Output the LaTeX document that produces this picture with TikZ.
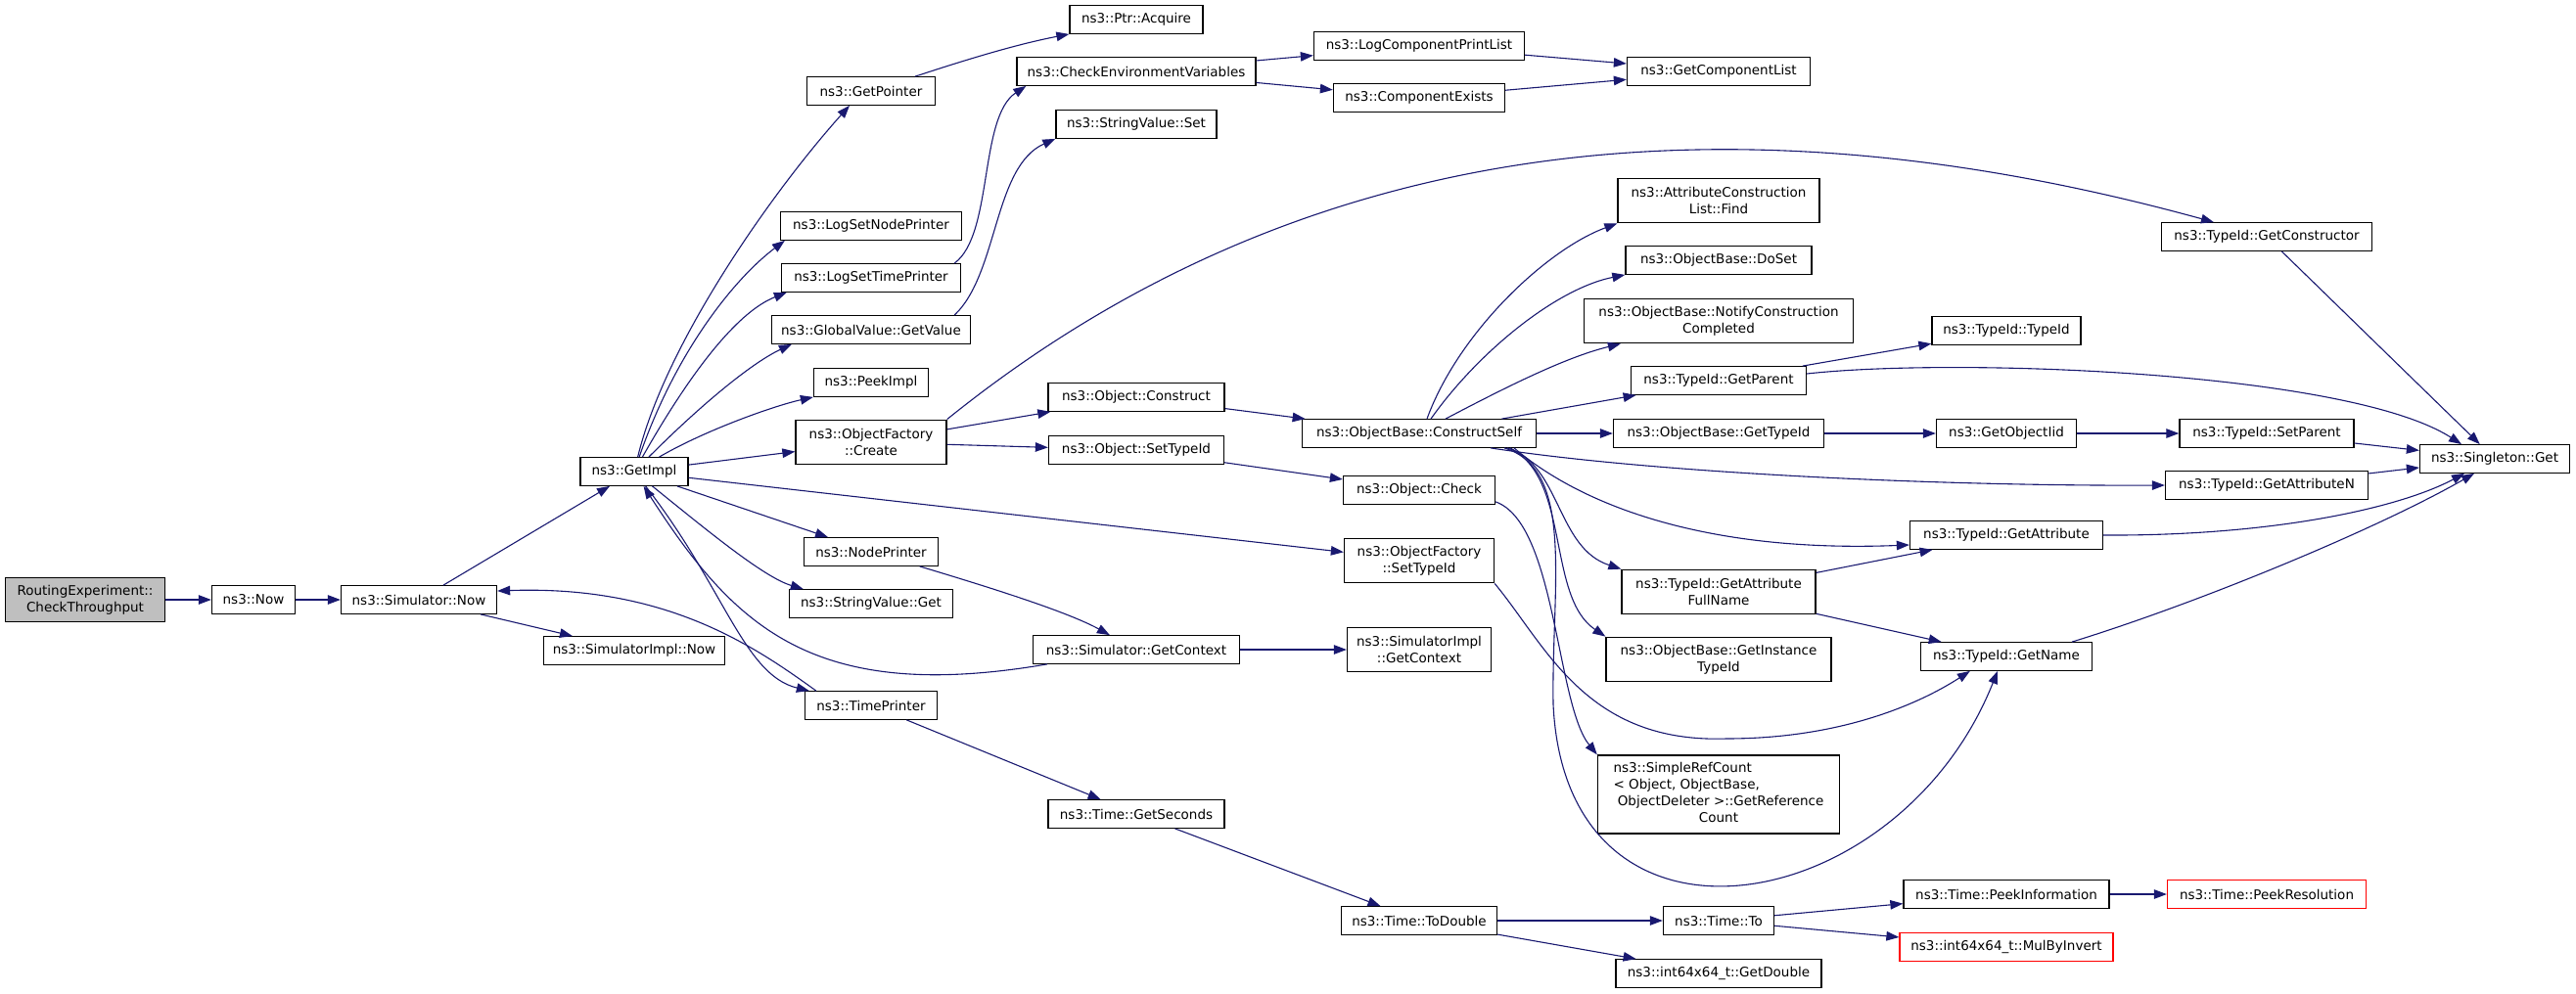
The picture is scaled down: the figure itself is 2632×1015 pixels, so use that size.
\documentclass[tikz,border=0pt]{standalone}
\usepackage{fontspec}
\setmainfont{DejaVu Sans}
\usepackage{tikz}
\usetikzlibrary{arrows.meta}
\definecolor{edgeblue}{HTML}{191970}

\begin{document}
\begin{tikzpicture}[x=1pt,y=-1pt]
  \tikzstyle{fn}=[draw=black,line width=1.3pt,fill=white,inner xsep=2pt,inner ysep=2pt,minimum height=28.5pt,align=center,font=\fontsize{13.5}{17}\selectfont]
  \tikzstyle{root}=[fn,fill=gray!50]
  \tikzstyle{trunc}=[fn,draw=red]
  \tikzstyle{two}=[minimum height=45.5pt]
  \tikzstyle{call}=[draw=edgeblue,line width=1.1pt,-{Triangle[length=13pt,width=9.5pt]}]
  \useasboundingbox (0,0) rectangle (2632,1015);

  % column 1-3
  \node[root,two,minimum width=163] (root) at (87,613) {RoutingExperiment::\\CheckThroughput};
  \node[fn,minimum width=85] (now) at (259,613) {ns3::Now};
  \node[fn,minimum width=159] (simnow) at (428,613) {ns3::Simulator::Now};
  \node[fn,minimum width=110] (getimpl) at (648,482) {ns3::GetImpl};
  \node[fn,minimum width=185] (simimplnow) at (648,665) {ns3::SimulatorImpl::Now};

  % column 4
  \node[fn,minimum width=131] (getpointer) at (890,93) {ns3::GetPointer};
  \node[fn,minimum width=185] (lognode) at (890,231) {ns3::LogSetNodePrinter};
  \node[fn,minimum width=183] (logtime) at (890,284) {ns3::LogSetTimePrinter};
  \node[fn,minimum width=203] (gvget) at (890,337) {ns3::GlobalValue::GetValue};
  \node[fn,minimum width=117] (peekimpl) at (890,391) {ns3::PeekImpl};
  \node[fn,two,minimum width=154] (ofcreate) at (890,452) {ns3::ObjectFactory\\::Create};
  \node[fn,minimum width=137] (nodeprinter) at (890,564) {ns3::NodePrinter};
  \node[fn,minimum width=167] (svget) at (890,617) {ns3::StringValue::Get};
  \node[fn,minimum width=135] (timeprinter) at (890,721) {ns3::TimePrinter};

  % column 5
  \node[fn,minimum width=136] (acquire) at (1161,20) {ns3::Ptr::Acquire};
  \node[fn,minimum width=244] (checkenv) at (1161,73) {ns3::CheckEnvironmentVariables};
  \node[fn,minimum width=164] (svset) at (1161,127) {ns3::StringValue::Set};
  \node[fn,minimum width=180] (construct) at (1161,406) {ns3::Object::Construct};
  \node[fn,minimum width=179] (settypeid) at (1161,460) {ns3::Object::SetTypeId};
  \node[fn,minimum width=211] (getcontext) at (1161,664) {ns3::Simulator::GetContext};
  \node[fn,minimum width=180] (getseconds) at (1161,832) {ns3::Time::GetSeconds};

  % column 6
  \node[fn,minimum width=215] (printlist) at (1450,47) {ns3::LogComponentPrintList};
  \node[fn,minimum width=175] (compexists) at (1450,100) {ns3::ComponentExists};
  \node[fn,minimum width=239] (constructself) at (1450,443) {ns3::ObjectBase::ConstructSelf};
  \node[fn,minimum width=155] (check) at (1450,501) {ns3::Object::Check};
  \node[fn,two,minimum width=153] (ofsettypeid) at (1450,573) {ns3::ObjectFactory\\::SetTypeId};
  \node[fn,two,minimum width=147] (implcontext) at (1450,664) {ns3::SimulatorImpl\\::GetContext};
  \node[fn,minimum width=159] (todouble) at (1450,941) {ns3::Time::ToDouble};

  % column 7
  \node[fn,minimum width=187] (complist) at (1756,73) {ns3::GetComponentList};
  \node[fn,two,minimum width=206] (attrfind) at (1756,205) {ns3::AttributeConstruction\\List::Find};
  \node[fn,minimum width=190] (doset) at (1756,266) {ns3::ObjectBase::DoSet};
  \node[fn,two,minimum width=275] (notify) at (1756,328) {ns3::ObjectBase::NotifyConstruction\\Completed};
  \node[fn,minimum width=179] (getparent) at (1756,389) {ns3::TypeId::GetParent};
  \node[fn,minimum width=215] (obgettypeid) at (1756,443) {ns3::ObjectBase::GetTypeId};
  \node[fn,two,minimum width=198] (fullname) at (1756,605) {ns3::TypeId::GetAttribute\\FullName};
  \node[fn,two,minimum width=230] (insttypeid) at (1756,674) {ns3::ObjectBase::GetInstance\\TypeId};
  \node[fn,minimum width=247,minimum height=80] (refcount) at (1756,812)
    {\begin{tabular}{@{}l@{}}ns3::SimpleRefCount\\< Object, ObjectBase,\\\ ObjectDeleter >::GetReference\\\multicolumn{1}{@{}c@{}}{Count}\end{tabular}};
  \node[fn,minimum width=113] (timeto) at (1756,941) {ns3::Time::To};
  \node[fn,minimum width=210] (getdouble) at (1756,995) {ns3::int64x64\_t::GetDouble};

  % column 8
  \node[fn,minimum width=152] (typeidctor) at (2050,338) {ns3::TypeId::TypeId};
  \node[fn,minimum width=143] (objectiid) at (2050,443) {ns3::GetObjectIid};
  \node[fn,minimum width=197] (getattr) at (2050,547) {ns3::TypeId::GetAttribute};
  \node[fn,minimum width=175] (getname) at (2050,671) {ns3::TypeId::GetName};
  \node[fn,minimum width=210] (peekinfo) at (2050,914) {ns3::Time::PeekInformation};
  \node[trunc,minimum width=218] (mulbyinv) at (2050,968) {ns3::int64x64\_t::MulByInvert};

  % column 9-10
  \node[fn,minimum width=215] (getctor) at (2316,242) {ns3::TypeId::GetConstructor};
  \node[fn,minimum width=178] (setparent) at (2316,443) {ns3::TypeId::SetParent};
  \node[fn,minimum width=207] (getattrn) at (2316,496) {ns3::TypeId::GetAttributeN};
  \node[trunc,minimum width=203] (peekres) at (2316,914) {ns3::Time::PeekResolution};
  \node[fn,minimum width=153] (singleton) at (2549,469) {ns3::Singleton::Get};

  % calls from the root
  \draw[call] (root) -- (now);
  \draw[call] (now) -- (simnow);
  \draw[call] (simnow) -- (getimpl);
  \draw[call] (simnow) -- (simimplnow);

  % GetImpl
  \draw[call] (getimpl) .. controls (680,350) and (790,195) .. ([xshift=-22pt]getpointer.south);
  \draw[call] (getimpl) .. controls (690,360) and (750,285) .. ([xshift=5pt]lognode.south west);
  \draw[call] (getimpl) .. controls (700,390) and (750,320) .. ([xshift=6pt]logtime.south west);
  \draw[call] (getimpl) .. controls (720,410) and (770,370) .. ([xshift=21pt]gvget.south west);
  \draw[call] (getimpl) .. controls (720,440) and (790,415) .. (peekimpl.south west);
  \draw[call] (getimpl) -- (ofcreate);
  \draw[call] (getimpl) -- (ofsettypeid);
  \draw[call] (getimpl) -- (nodeprinter);
  \draw[call] (getimpl) .. controls (720,540) and (780,590) .. ([xshift=15pt]svget.north west);
  \draw[call] (getimpl) .. controls (740,600) and (760,690) .. ([xshift=5pt]timeprinter.north west);
  \draw[call] ([xshift=12pt]timeprinter.north west) .. controls (770,660) and (680,598) .. ([yshift=9pt]simnow.east);
  \draw[call] (nodeprinter) .. controls (1010,600) and (1090,625) .. (getcontext);
  \draw[call] ([xshift=15pt]getcontext.south west) .. controls (830,720) and (750,640) .. (getimpl);
  \draw[call] (getcontext) -- (implcontext);

  % time
  \draw[call] (timeprinter) -- (getseconds);
  \draw[call] (getseconds) -- (todouble);
  \draw[call] (todouble) -- (timeto);
  \draw[call] (todouble) -- (getdouble);
  \draw[call] (timeto) -- (peekinfo);
  \draw[call] (timeto) -- (mulbyinv);
  \draw[call] (peekinfo) -- (peekres);

  % logging
  \draw[call] (getpointer) .. controls (990,60) and (1040,45) .. (acquire.south west);
  \draw[call] ([xshift=-7pt]logtime.north east) .. controls (1015,240) and (1000,120) .. ([xshift=10pt]checkenv.south west);
  \draw[call] ([xshift=-17pt]gvget.north east) .. controls (1020,280) and (1015,170) .. (svset.south west);
  \draw[call] (checkenv) -- (printlist);
  \draw[call] (checkenv) -- (compexists);
  \draw[call] (printlist) -- (complist);
  \draw[call] (compexists) -- (complist);

  % object factory
  \draw[call] (ofcreate) -- (construct);
  \draw[call] (ofcreate) -- (settypeid);
  \draw[call] (ofcreate.north east) .. controls (1350,120) and (1800,100) .. (getctor);
  \draw[call] (construct) -- (constructself);
  \draw[call] (settypeid) -- (check);

  % ConstructSelf
  \draw[call] ([xshift=8pt]constructself.north) .. controls (1490,340) and (1580,255) .. (attrfind.south west);
  \draw[call] ([xshift=12pt]constructself.north) .. controls (1510,360) and (1590,295) .. (doset.south west);
  \draw[call] ([xshift=27pt]constructself.north) .. controls (1540,395) and (1600,365) .. ([xshift=38pt]notify.south west);
  \draw[call] (constructself) -- (getparent);
  \draw[call] (constructself) -- (obgettypeid);
  \draw[call] ([xshift=73pt]constructself.south) .. controls (1700,485) and (2000,497) .. (getattrn.west);
  \draw[call] ([xshift=97pt]constructself.south) .. controls (1620,520) and (1750,565) .. ([yshift=-10pt]getattr.west);
  \draw[call] ([xshift=90pt]constructself.south) .. controls (1595,475) and (1590,560) .. (fullname.north west);
  \draw[call] ([xshift=93pt]constructself.south) .. controls (1605,490) and (1580,610) .. (insttypeid.north west);
  \draw[call] ([xshift=87pt]constructself.south) .. controls (1610,480) and (1585,600) .. (1587,720)
    .. controls (1600,1000) and (1940,940) .. ([xshift=-9pt]getname.south);
  \draw[call] ([yshift=3pt]check.south east) .. controls (1590,535) and (1590,720) .. (refcount.north west);
  \draw[call] (ofsettypeid.south east) .. controls (1580,660) and (1620,760) .. (1764,755)
    .. controls (1880,755) and (1960,720) .. ([xshift=51pt]getname.south west);

  % TypeId
  \draw[call] (getparent) -- (typeidctor);
  \draw[call] ([yshift=7pt]getparent.east) .. controls (2000,365) and (2400,380) .. ([xshift=-34pt]singleton.north);
  \draw[call] (getctor) -- (singleton);
  \draw[call] (obgettypeid) -- (objectiid);
  \draw[call] (objectiid) -- (setparent);
  \draw[call] (setparent) -- (singleton);
  \draw[call] (getattrn) -- (singleton);
  \draw[call] (getattr.east) .. controls (2320,548) and (2450,520) .. ([xshift=-31pt]singleton.south);
  \draw[call] (fullname) -- (getattr);
  \draw[call] (fullname) -- (getname);
  \draw[call] ([xshift=67pt]getname.north) .. controls (2250,615) and (2430,540) .. ([xshift=-21pt]singleton.south);
\end{tikzpicture}
\end{document}
